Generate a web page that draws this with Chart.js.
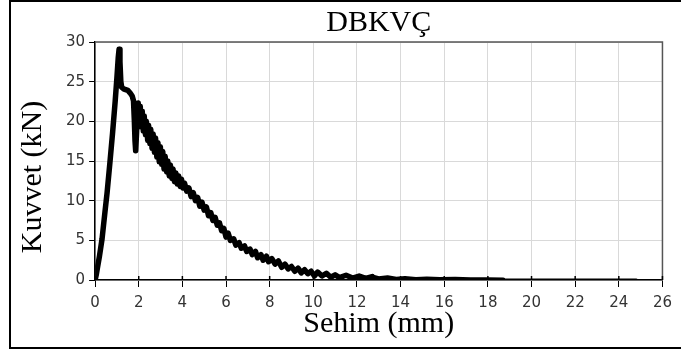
<!DOCTYPE html>
<html>
<head>
<meta charset="utf-8">
<script src="https://cdn.jsdelivr.net/npm/chart.js@4.4.1/dist/chart.umd.min.js"></script>
<style>
  body { margin: 0; background: #fff; }
</style>
</head>
<body>
<canvas id="chart" width="681" height="356"></canvas>
<script>
const sehim = [
  0, 0.05, 0.1, 0.2, 0.32, 0.45, 0.55, 0.68, 0.8, 0.92, 1.0, 1.06, 1.1, 1.14, 1.18, 1.22,
  1.3, 1.4, 1.5, 1.6, 1.7, 1.76, 1.8, 1.83, 1.86, 1.9, 1.94, 1.98,
  2.03, 2.07, 2.12, 2.16, 2.21, 2.25, 2.31, 2.35, 2.41, 2.45, 2.51, 2.55, 2.61, 2.66,
  2.72, 2.77, 2.83, 2.88, 2.94, 2.99, 3.05, 3.1, 3.16, 3.21, 3.28, 3.33, 3.4, 3.45,
  3.52, 3.57, 3.64, 3.7, 3.77, 3.83, 3.9, 3.96, 4.03,
  4.1, 4.2, 4.3, 4.4, 4.5, 4.6, 4.7, 4.8, 4.9, 5.0, 5.1, 5.2, 5.3, 5.4, 5.5, 5.6,
  5.7, 5.8, 5.9, 6.0, 6.1, 6.2, 6.35, 6.45, 6.6, 6.7, 6.85, 6.95, 7.1, 7.2, 7.35,
  7.45, 7.6, 7.7, 7.85, 7.95, 8.1, 8.25, 8.4, 8.55, 8.7, 8.85, 9.0, 9.15, 9.3, 9.45,
  9.6, 9.75, 9.9, 10.05, 10.2, 10.4, 10.6, 10.8, 11.0, 11.2, 11.5, 11.8, 12.1, 12.4,
  12.7, 13.0, 13.4, 13.8, 14.2, 14.7, 15.2, 15.8, 16.5, 17.2, 18.0, 18.7, 19.2, 22.0, 24.8
];
const kuvvet = [
  0, 0.6, 1.4, 3.0, 5.2, 8.5, 11.0, 14.8, 18.5, 22.5, 25.5, 28.0, 29.1, 27.5, 25.0, 24.3,
  24.1, 24.0, 23.9, 23.6, 23.2, 22.6, 20.0, 17.5, 16.3, 18.5, 21.5, 22.3,
  20.0, 21.9, 19.3, 21.3, 18.8, 20.7, 18.3, 20.0, 17.6, 19.5, 17.2, 19.0, 16.6, 18.4,
  16.1, 17.9, 15.5, 17.3, 14.9, 16.8, 14.6, 16.2, 14.0, 15.6, 13.6, 15.0, 13.1, 14.5,
  12.8, 14.0, 12.4, 13.5, 12.1, 13.1, 11.8, 12.7, 11.6,
  12.2, 11.2, 11.6, 10.5, 11.0, 10.0, 10.4, 9.3, 9.8, 8.8, 9.2, 8.1, 8.5, 7.5, 7.9, 6.9,
  7.2, 6.2, 6.5, 5.4, 5.9, 5.0, 5.2, 4.4, 4.7, 4.0, 4.3, 3.6, 3.9, 3.2, 3.6,
  2.8, 3.2, 2.5, 3.0, 2.3, 2.7, 2.0, 2.4, 1.6, 2.0, 1.4, 1.7, 1.1, 1.5, 0.9,
  1.3, 0.8, 1.1, 0.5, 1.0, 0.5, 0.85, 0.35, 0.65, 0.3, 0.6, 0.25, 0.5, 0.2,
  0.42, 0.2, 0.32, 0.12, 0.22, 0.1, 0.17, 0.08, 0.12, 0.06, 0.07, 0.04, 0.04, 0.04, 0.04
];
const xTicks = { min: 0, max: 26, step: 2 };
const yTicks = { min: 0, max: 30, step: 5 };

const serif = '"Liberation Serif", "Times New Roman", serif';
const sans = '"DejaVu Sans", Verdana, sans-serif';

// frame around the plot, inner halves of x tick marks, the y title and the outer box
const framePlugin = {
  id: 'frame',
  afterDraw(chart) {
    const { ctx, chartArea: a, scales } = chart;
    ctx.save();
    ctx.strokeStyle = '#555';
    ctx.lineWidth = 1.5;
    ctx.beginPath();
    ctx.moveTo(a.left, a.top);
    ctx.lineTo(a.right, a.top);
    ctx.lineTo(a.right, a.bottom);
    ctx.stroke();

    ctx.strokeStyle = '#000';
    ctx.lineWidth = 1.5;
    scales.x.ticks.forEach(t => {
      const px = scales.x.getPixelForValue(t.value);
      ctx.beginPath();
      ctx.moveTo(px, a.bottom - 4);
      ctx.lineTo(px, a.bottom);
      ctx.stroke();
    });

    ctx.fillStyle = '#000';
    ctx.font = '30px ' + serif;
    ctx.textAlign = 'center';
    ctx.textBaseline = 'middle';
    ctx.translate(33, 177);
    ctx.rotate(-Math.PI / 2);
    ctx.fillText('Kuvvet (kN)', 0, 0);
    ctx.setTransform(1, 0, 0, 1, 0, 0);

    ctx.lineWidth = 2;
    ctx.strokeRect(10, 1, 680, 347);
    ctx.restore();
  }
};

new Chart(document.getElementById('chart').getContext('2d'), {
  type: 'scatter',
  data: {
    datasets: [{
      label: 'DBKVÇ',
      data: sehim.map((x, i) => ({ x: x, y: kuvvet[i] })),
      showLine: true,
      borderColor: '#000',
      backgroundColor: '#000',
      borderWidth: 5.5,
      borderJoinStyle: 'round',
      borderCapStyle: 'round',
      pointRadius: 0,
      tension: 0,
      segment: {
        borderWidth: c => (c.p0.parsed.x >= 18.7 ? 2.5 : (c.p0.parsed.x >= 12.5 ? 4.5 : 5.5))
      }
    }]
  },
  options: {
    responsive: false,
    animation: false,
    layout: { padding: { left: 62, right: 18, top: 0, bottom: 17 } },
    plugins: {
      legend: { display: false },
      tooltip: { enabled: false },
      title: {
        display: true,
        text: 'DBKVÇ',
        fullSize: false,
        color: '#000',
        font: { family: serif, size: 30, weight: 'normal', lineHeight: 1 },
        padding: { top: 8, bottom: 4 }
      }
    },
    scales: {
      x: {
        type: 'linear',
        min: xTicks.min,
        max: xTicks.max,
        ticks: {
          stepSize: xTicks.step,
          color: '#333',
          padding: 9,
          font: { family: sans, size: 15, lineHeight: 1 }
        },
        grid: { color: '#d9d9d9', lineWidth: 1, tickColor: '#000', tickLength: 7 },
        border: { color: '#000', width: 1.5 },
        title: {
          display: true,
          text: 'Sehim (mm)',
          color: '#000',
          font: { family: serif, size: 30, lineHeight: 1 },
          padding: { top: -11, bottom: 0 }
        }
      },
      y: {
        type: 'linear',
        min: yTicks.min,
        max: yTicks.max,
        ticks: {
          stepSize: yTicks.step,
          color: '#333',
          padding: 4,
          font: { family: sans, size: 15, lineHeight: 1 }
        },
        grid: { color: '#d9d9d9', lineWidth: 1, tickColor: '#000', tickLength: 6 },
        border: { color: '#000', width: 1.5 }
      }
    }
  },
  plugins: [framePlugin]
});
</script>
</body>
</html>
